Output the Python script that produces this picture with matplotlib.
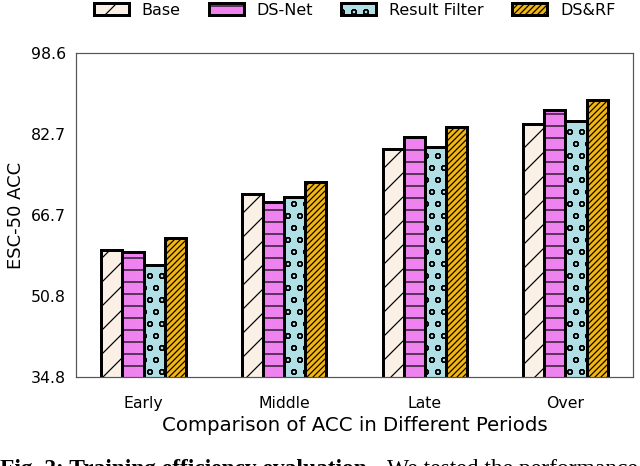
import numpy as np
import matplotlib.pyplot as plt

periods = ['Early', 'Middle', 'Late', 'Over']
methods = ['Base', 'DS-Net', 'Result Filter', 'DS&RF']
base = [59.8, 70.8, 79.7, 84.7]
ds_net = [59.5, 69.3, 82.1, 87.4]
result_filter = [56.9, 70.3, 80.1, 85.3]
ds_rf = [62.1, 73.2, 84.1, 89.3]
yticks = [34.8, 50.8, 66.7, 82.7, 98.6]

colors = ['#faf0e6', '#ee82ee', '#b0e0e6', '#f5b70f']
hatches = ['/', '-', 'o', '////']

plt.rcParams['hatch.linewidth'] = 1.2

# drawn at 72 dpi so 1 pt == 1 px
fig = plt.figure(figsize=(640 / 72, 466 / 72), dpi=72)
ax = fig.add_axes([76 / 640, 1 - 377 / 466, (633 - 76) / 640, (377 - 53) / 466])

x = np.arange(len(periods))
w = 0.15
for i, (vals, name) in enumerate(zip([base, ds_net, result_filter, ds_rf], methods)):
    ax.bar(x + (i - 1.5) * w, vals, w, color=colors[i], hatch=hatches[i],
           edgecolor='black', linewidth=3, label=name)

ax.set_ylim(34.8, 98.6)
ax.set_xlim(-0.48, 3.48)
ax.set_yticks(yticks)
ax.set_yticklabels(['%.1f' % v for v in yticks], fontsize=15.7)
ax.set_xticks(x)
ax.set_xticklabels(periods, fontsize=15.7)
ax.tick_params(axis='x', length=0, pad=19)
ax.tick_params(axis='y', length=0, pad=10)
for s in ax.spines.values():
    s.set_color('#555555')
    s.set_linewidth(1.2)
ax.set_ylabel('ESC-50 ACC', fontsize=18, labelpad=6)
ax.set_xlabel('Comparison of ACC in Different Periods', fontsize=19.8, labelpad=5)

ax.legend(ncol=4, frameon=False, fontsize=16, loc='center',
          bbox_to_anchor=(0.5, 1 + 43 / 324), handlelength=2.2, handleheight=0.75,
          columnspacing=1.75, handletextpad=0.8, borderaxespad=0)

fig.text(0.0, 1 - 459 / 466, 'Fig. 2: Training efficiency evaluation.', fontsize=23.5,
         family='Liberation Serif', weight='bold', va='top')
fig.text(387 / 640, 1 - 459 / 466, 'We tested the performance', fontsize=23.5,
         family='Liberation Serif', va='top')

fig.savefig('out.png', dpi=72)
